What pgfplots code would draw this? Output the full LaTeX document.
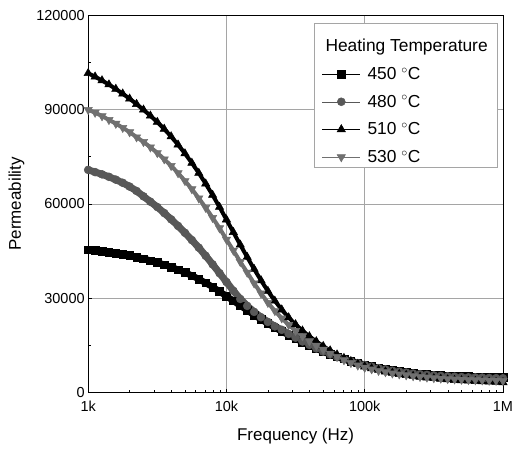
\documentclass[border=0pt]{standalone}
\usepackage{fontspec}
\setmainfont{Liberation Sans}
\usepackage{pgfplots}
\usepackage{pgfplotstable}
\pgfplotsset{compat=1.18}
\definecolor{gA}{RGB}{88,88,88}
\definecolor{gB}{RGB}{112,112,112}
\definecolor{gridc}{RGB}{165,165,165}

\pgfplotstableread{
f s450 s480 s510 s530
1000 45400 70800 101500 89900
1122 45200 70100 100400 89000
1259 45000 69400 99200 87900
1413 44700 68600 97900 86700
1585 44400 67700 96500 85500
1778 44000 66700 95000 84200
1995 43600 65500 93400 82800
2239 43100 64100 91700 81200
2512 42600 62400 89900 79700
2818 42000 60700 88000 78000
3162 41400 59000 86000 76200
3548 40700 57100 83800 74200
3981 39900 55100 81400 72100
4467 39100 53000 78800 69800
5012 38200 50800 76000 67300
5623 37200 48500 73000 64700
6310 36100 46100 69800 61800
7079 34900 43500 66400 58800
7943 33600 40800 62800 55600
8913 32200 38000 59000 52300
10000 30700 35200 55000 48700
11220 29200 32400 51000 45200
12590 27700 29800 47000 41600
14130 26200 27600 43100 38200
15850 24700 25700 39300 34800
17780 23300 24000 35700 31600
19950 22000 22500 32300 28600
22390 20700 21100 29200 26000
25120 19500 20000 26400 23700
28180 18300 18700 23900 21600
31620 17200 17500 21700 19700
35480 16100 16300 19700 18000
39810 15100 15200 17900 16400
44670 14100 14100 16300 15000
50120 13200 13100 14800 13700
56230 12300 12200 13400 12500
63100 11500 11400 12100 11400
70790 10800 10700 11000 10400
79430 10100 10000 10000 9500
89130 9500 9400 9100 8700
100000 8900 8800 8300 8000
112200 8400 8300 7700 7500
125900 7900 7800 7200 7000
141300 7500 7400 6700 6600
158500 7100 7000 6300 6200
177800 6800 6700 5900 5900
199500 6500 6400 5600 5600
223900 6200 6100 5300 5300
251200 6000 5900 5000 5100
281800 5800 5700 4800 4900
316200 5600 5500 4600 4700
354800 5500 5350 4400 4550
398100 5400 5200 4200 4400
446700 5300 5100 4000 4300
501200 5250 5000 3900 4200
562300 5200 4900 3800 4100
631000 5150 4850 3700 4050
707900 5100 4800 3600 4000
794300 5050 4700 3500 3900
891300 5000 4650 3400 3850
1000000 5000 4600 3300 3800
}\perm

\begin{document}
\begin{tikzpicture}
\path[use as bounding box] (-88bp,-58bp) rectangle (426bp,392bp);
\begin{axis}[
  at={(0,0)}, anchor=south west, scale only axis,
  width=414bp, height=377bp,
  xmode=log, xmin=1000, xmax=1000000, ymin=0, ymax=120000,
  xtick={1000,10000,100000,1000000},
  xticklabels={1k,10k,100k,1M},
  minor xtick={2000,3000,4000,5000,6000,7000,8000,9000,20000,30000,40000,50000,60000,70000,80000,90000,200000,300000,400000,500000,600000,700000,800000,900000},
  ytick={0,30000,60000,90000,120000},
  minor ytick={15000,45000,75000,105000},
  scaled y ticks=false,
  yticklabel style={/pgf/number format/fixed,/pgf/number format/1000 sep={}},
  /pgf/number format/assume math mode=true,
  tick pos=left, tick align=inside,
  major tick length=4bp, minor tick length=3bp,
  tick style={black, line width=0.6pt},
  grid=major,
  major grid style={gridc, line width=0.6pt},
  axis line style={line width=0.8pt},
  ticklabel style={font=\fontsize{14.5}{16}\selectfont},
  xticklabel style={yshift=-5bp},
  xlabel={Frequency (Hz)},
  ylabel={Permeability},
  label style={font=\fontsize{17}{20}\selectfont},
  xlabel style={yshift=-9bp},
  ylabel style={yshift=5bp},
  legend style={at={(rel axis cs:0.988,0.979)}, anchor=north east,
    draw=gridc, line width=0.6pt, fill=white,
    font=\fontsize{17.4}{20}\selectfont, row sep=10bp, column sep=5bp,
    inner xsep=8bp, inner ysep=1.5bp},
  legend cell align=left,
  legend image code/.code={\draw[mark repeat=2,mark phase=2,#1] plot coordinates {(0bp,0bp) (19bp,0bp) (38bp,0bp)};},
]
\addlegendimage{empty legend}
\addlegendentry{\hspace*{-42bp}\rule{0pt}{25bp}Heating Temperature}
% continuous bands under the marks
\addplot[black, line width=6.5bp, forget plot] table[x=f, y=s450] {\perm};
\addplot[black, line width=0.5pt, mark=square*, mark size=3.8pt, mark options={solid, fill=black}] table[x=f, y=s450] {\perm};
\addlegendentry{450 $^{\circ}$C}
\addplot[gA, line width=7bp, forget plot] table[x=f, y=s480] {\perm};
\addplot[gA, line width=0.5pt, mark=*, mark size=4pt, mark options={solid, fill=gA, draw=gA}] table[x=f, y=s480] {\perm};
\addlegendentry{480 $^{\circ}$C}
\addplot[black, line width=4bp, forget plot] table[x=f, y=s510] {\perm};
\addplot[black, line width=0.5pt, mark=triangle*, mark size=4.8pt, mark options={solid, fill=black}] table[x=f, y=s510] {\perm};
\addlegendentry{510 $^{\circ}$C}
\addplot[gB, line width=4bp, forget plot] table[x=f, y=s530] {\perm};
\addplot[gB, line width=0.5pt, mark=triangle*, mark size=4.8pt, mark options={solid, fill=gB, draw=gB, rotate=180}] table[x=f, y=s530] {\perm};
\addlegendentry{530 $^{\circ}$C}
\end{axis}
\end{tikzpicture}
\end{document}
